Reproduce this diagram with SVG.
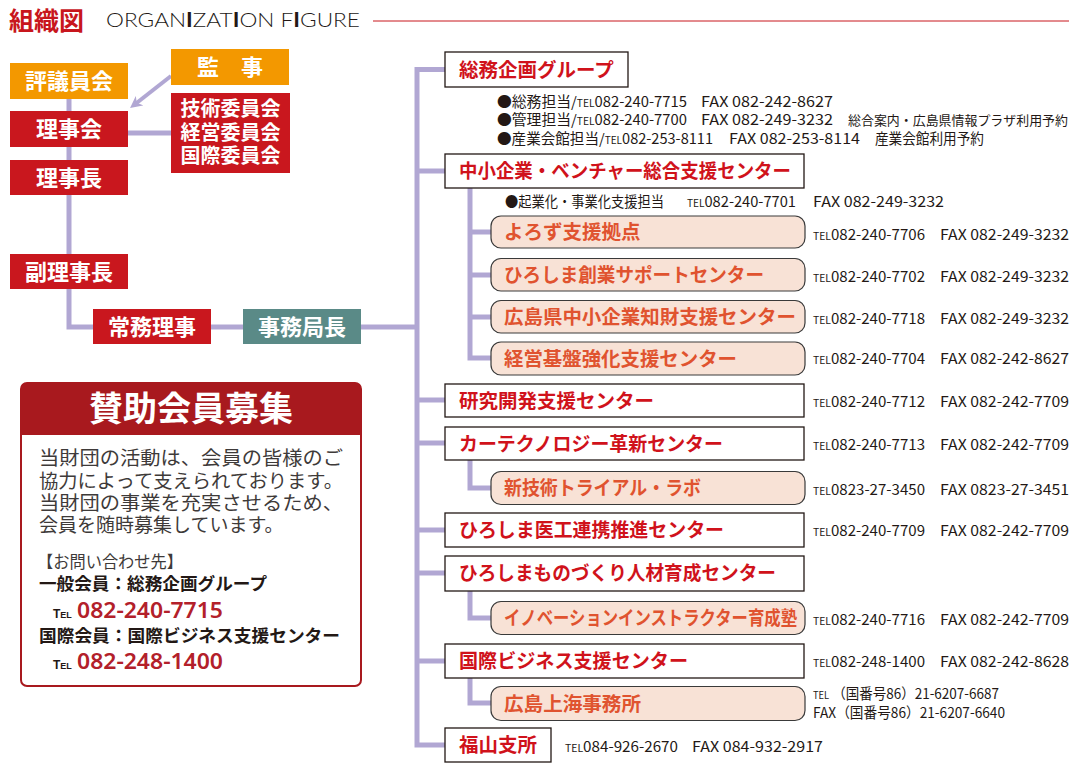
<svg xmlns="http://www.w3.org/2000/svg" width="1077" height="775" viewBox="0 0 1077 775">
<defs>
<style>
text{font-family:"Noto Sans CJK JP","Liberation Sans",sans-serif}
.ln{stroke:#b1a7d3;stroke-width:5;fill:none;stroke-linejoin:miter}
.wb{fill:#fff;stroke:#231815;stroke-width:1.3}
.rb{fill:#f8e2d6;stroke:#3a3a3a;stroke-width:1.2}
.or{fill:#f39800}
.rd{fill:#c9171e}
.tl{fill:#5a8a87}
.lw{fill:#fff;font-weight:bold;font-size:22px;text-anchor:middle}
.tr{fill:#d0121b;font-weight:bold;font-size:19.5px}
.to{fill:#e0532f;font-weight:bold;font-size:19.5px}
.info{fill:#231815;font-size:14.5px}
.tel{font-size:10px}
.body{fill:#3e3a39;font-size:19px}
.bb{fill:#231815;font-size:17.5px;font-weight:bold}
.num{fill:#b3202a;font-size:22px;font-weight:600;font-family:"Noto Sans","Liberation Sans",sans-serif}
.telb{fill:#231815;font-size:12px;font-weight:bold;font-family:"Liberation Sans",sans-serif}
</style>
<marker id="ah" viewBox="0 0 12 12" refX="7" refY="6" markerWidth="12" markerHeight="12" markerUnits="userSpaceOnUse" orient="auto">
<path d="M0,0 L12,6 L0,12 L3.5,6 z" fill="#b1a7d3"/>
</marker>
</defs>
<rect width="1077" height="775" fill="#fff"/>

<g id="title">
<text x="9" y="29.5" font-size="25" font-weight="bold" fill="#c8161d">組織図</text>
<text x="106" y="27" font-size="20.5" fill="#231815" textLength="254" lengthAdjust="spacingAndGlyphs" style="font-family:Lato,'Liberation Sans',sans-serif;font-weight:300">ORGAN<tspan font-weight="bold">I</tspan>ZAT<tspan font-weight="bold">I</tspan>ON F<tspan font-weight="bold">I</tspan>GURE</text>
<line x1="373" y1="21" x2="1069" y2="21" stroke="#c8161d" stroke-width="1"/>
</g>

<g id="connectors">
<path class="ln" d="M69,81 V327 H93"/>
<path class="ln" d="M128,133 H171"/>
<path class="ln" d="M211,327 H243"/>
<path class="ln" d="M361,327 H417"/>
<path class="ln" d="M445,69.5 H417 V745 H445"/>
<path class="ln" d="M417,171 H445 M417,400 H445 M417,443 H445 M417,530 H445 M417,573 H445 M417,661 H445"/>
<path class="ln" d="M470,188 V358 H491 M470,232 H491 M470,275 H491 M470,317 H491"/>
<path class="ln" d="M470,460 V488 H491"/>
<path class="ln" d="M470,591 V618 H491"/>
<path class="ln" d="M470,678 V703 H491"/>
<line x1="171" y1="76" x2="134" y2="105" stroke="#b1a7d3" stroke-width="4" marker-end="url(#ah)"/>
</g>

<g id="n-hyogiinkai"><rect class="or" x="10" y="63" width="118" height="36"/><text class="lw" x="69" y="89">評議員会</text></g>
<g id="n-kanji"><rect class="or" x="171" y="49" width="118" height="36"/><text class="lw" x="230" y="75">監　事</text></g>
<g id="n-rijikai"><rect class="rd" x="10" y="111" width="118" height="36"/><text class="lw" x="69" y="137">理事会</text></g>
<g id="n-iinkai"><rect class="rd" x="171" y="93" width="119" height="80"/>
<text class="lw" x="230.5" y="115.5" style="font-size:20px">技術委員会</text>
<text class="lw" x="230.5" y="139.5" style="font-size:20px">経営委員会</text>
<text class="lw" x="230.5" y="162.5" style="font-size:20px">国際委員会</text></g>
<g id="n-rijicho"><rect class="rd" x="10" y="160" width="118" height="35"/><text class="lw" x="69" y="185.5">理事長</text></g>
<g id="n-fukurijicho"><rect class="rd" x="10" y="254" width="118" height="35"/><text class="lw" x="69" y="279.5">副理事長</text></g>
<g id="n-jomuriji"><rect class="rd" x="93" y="309" width="118" height="35"/><text class="lw" x="152" y="334.5">常務理事</text></g>
<g id="n-jimukyokucho"><rect class="tl" x="243" y="309" width="118" height="35"/><text class="lw" x="302" y="334.5">事務局長</text></g>

<g id="n-somu">
<rect class="wb" x="445" y="52" width="183" height="35"/>
<text class="tr" x="459" y="76.5">総務企画グループ</text>
<text class="info" x="497" y="106.5" textLength="190" lengthAdjust="spacingAndGlyphs">●総務担当/<tspan class="tel">TEL</tspan>082-240-7715</text>
<text class="info" x="701" y="106.5" textLength="132" lengthAdjust="spacingAndGlyphs">FAX 082-242-8627</text>
<text class="info" x="497" y="125" textLength="190" lengthAdjust="spacingAndGlyphs">●管理担当/<tspan class="tel">TEL</tspan>082-240-7700</text>
<text class="info" x="701" y="125" textLength="132" lengthAdjust="spacingAndGlyphs">FAX 082-249-3232</text>
<text class="info" x="848" y="125" font-size="13" style="font-size:13px" textLength="220" lengthAdjust="spacingAndGlyphs">総合案内・広島県情報プラザ利用予約</text>
<text class="info" x="497" y="143.5" textLength="216" lengthAdjust="spacingAndGlyphs">●産業会館担当/<tspan class="tel">TEL</tspan>082-253-8111</text>
<text class="info" x="729" y="143.5" textLength="131" lengthAdjust="spacingAndGlyphs">FAX 082-253-8114</text>
<text class="info" x="875" y="143.5" textLength="109" lengthAdjust="spacingAndGlyphs">産業会館利用予約</text>
</g>

<g id="n-chusho">
<rect class="wb" x="445" y="154" width="359" height="34"/>
<text class="tr" x="459" y="178" textLength="332" lengthAdjust="spacingAndGlyphs">中小企業・ベンチャー総合支援センター</text>
<text class="info" x="505" y="207" textLength="159" lengthAdjust="spacingAndGlyphs">●起業化・事業化支援担当</text>
<text class="info" x="687" y="207" textLength="109" lengthAdjust="spacingAndGlyphs"><tspan class="tel">TEL</tspan>082-240-7701</text>
<text class="info" x="813" y="207" textLength="131" lengthAdjust="spacingAndGlyphs">FAX 082-249-3232</text>
</g>

<g id="n-yorozu">
<rect class="rb" x="491" y="216" width="314" height="32" rx="10"/>
<text class="to" x="504" y="239">よろず支援拠点</text>
<text class="info" x="813" y="239.5" textLength="112" lengthAdjust="spacingAndGlyphs"><tspan class="tel">TEL</tspan>082-240-7706</text>
<text class="info" x="940" y="239.5" textLength="129" lengthAdjust="spacingAndGlyphs">FAX 082-249-3232</text>
</g>
<g id="n-sogyo">
<rect class="rb" x="491" y="258.5" width="314" height="32.5" rx="10"/>
<text class="to" x="504" y="282" textLength="260" lengthAdjust="spacingAndGlyphs">ひろしま創業サポートセンター</text>
<text class="info" x="813" y="281.5" textLength="112" lengthAdjust="spacingAndGlyphs"><tspan class="tel">TEL</tspan>082-240-7702</text>
<text class="info" x="940" y="281.5" textLength="129" lengthAdjust="spacingAndGlyphs">FAX 082-249-3232</text>
</g>
<g id="n-chizai">
<rect class="rb" x="491" y="300.5" width="314" height="32.5" rx="10"/>
<text class="to" x="504" y="324" textLength="292" lengthAdjust="spacingAndGlyphs">広島県中小企業知財支援センター</text>
<text class="info" x="813" y="324" textLength="112" lengthAdjust="spacingAndGlyphs"><tspan class="tel">TEL</tspan>082-240-7718</text>
<text class="info" x="940" y="324" textLength="129" lengthAdjust="spacingAndGlyphs">FAX 082-249-3232</text>
</g>
<g id="n-keiei">
<rect class="rb" x="491" y="342" width="314" height="33" rx="10"/>
<text class="to" x="504" y="365.5" textLength="233" lengthAdjust="spacingAndGlyphs">経営基盤強化支援センター</text>
<text class="info" x="813" y="363.5" textLength="112" lengthAdjust="spacingAndGlyphs"><tspan class="tel">TEL</tspan>082-240-7704</text>
<text class="info" x="940" y="363.5" textLength="129" lengthAdjust="spacingAndGlyphs">FAX 082-242-8627</text>
</g>

<g id="n-kenkyu">
<rect class="wb" x="445" y="384" width="359" height="33"/>
<text class="tr" x="459" y="407.5">研究開発支援センター</text>
<text class="info" x="813" y="406.5" textLength="112" lengthAdjust="spacingAndGlyphs"><tspan class="tel">TEL</tspan>082-240-7712</text>
<text class="info" x="940" y="406.5" textLength="129" lengthAdjust="spacingAndGlyphs">FAX 082-242-7709</text>
</g>
<g id="n-car">
<rect class="wb" x="445" y="427" width="359" height="33"/>
<text class="tr" x="459" y="450.5" textLength="264" lengthAdjust="spacingAndGlyphs">カーテクノロジー革新センター</text>
<text class="info" x="813" y="449.5" textLength="112" lengthAdjust="spacingAndGlyphs"><tspan class="tel">TEL</tspan>082-240-7713</text>
<text class="info" x="940" y="449.5" textLength="129" lengthAdjust="spacingAndGlyphs">FAX 082-242-7709</text>
</g>
<g id="n-trial">
<rect class="rb" x="491" y="471.5" width="314" height="33" rx="10"/>
<text class="to" x="504" y="495" textLength="197" lengthAdjust="spacingAndGlyphs">新技術トライアル・ラボ</text>
<text class="info" x="813" y="494.5" textLength="112" lengthAdjust="spacingAndGlyphs"><tspan class="tel">TEL</tspan>0823-27-3450</text>
<text class="info" x="940" y="494.5" textLength="129" lengthAdjust="spacingAndGlyphs">FAX 0823-27-3451</text>
</g>
<g id="n-iko">
<rect class="wb" x="445" y="513" width="359" height="34"/>
<text class="tr" x="459" y="537" textLength="265" lengthAdjust="spacingAndGlyphs">ひろしま医工連携推進センター</text>
<text class="info" x="813" y="535.5" textLength="112" lengthAdjust="spacingAndGlyphs"><tspan class="tel">TEL</tspan>082-240-7709</text>
<text class="info" x="940" y="535.5" textLength="129" lengthAdjust="spacingAndGlyphs">FAX 082-242-7709</text>
</g>
<g id="n-monozukuri">
<rect class="wb" x="445" y="556" width="359" height="35"/>
<text class="tr" x="459" y="580" textLength="317" lengthAdjust="spacingAndGlyphs">ひろしまものづくり人材育成センター</text>
</g>
<g id="n-innovation">
<rect class="rb" x="491" y="601.5" width="314" height="33" rx="10"/>
<text class="to" x="504" y="625" textLength="293" lengthAdjust="spacingAndGlyphs">イノベーションインストラクター育成塾</text>
<text class="info" x="813" y="624.5" textLength="112" lengthAdjust="spacingAndGlyphs"><tspan class="tel">TEL</tspan>082-240-7716</text>
<text class="info" x="940" y="624.5" textLength="129" lengthAdjust="spacingAndGlyphs">FAX 082-242-7709</text>
</g>
<g id="n-kokusai">
<rect class="wb" x="445" y="644" width="359" height="34"/>
<text class="tr" x="459" y="668" textLength="229" lengthAdjust="spacingAndGlyphs">国際ビジネス支援センター</text>
<text class="info" x="813" y="666.5" textLength="112" lengthAdjust="spacingAndGlyphs"><tspan class="tel">TEL</tspan>082-248-1400</text>
<text class="info" x="940" y="666.5" textLength="129" lengthAdjust="spacingAndGlyphs">FAX 082-242-8628</text>
</g>
<g id="n-shanghai">
<rect class="rb" x="491" y="686.5" width="314" height="34" rx="10"/>
<text class="to" x="504" y="710.5" textLength="137" lengthAdjust="spacingAndGlyphs">広島上海事務所</text>
<text class="info" x="813" y="699" textLength="186" lengthAdjust="spacingAndGlyphs"><tspan class="tel">TEL</tspan> （国番号86）21-6207-6687</text>
<text class="info" x="813" y="717.5" textLength="192" lengthAdjust="spacingAndGlyphs">FAX（国番号86）21-6207-6640</text>
</g>
<g id="n-fukuyama">
<rect class="wb" x="445" y="728" width="106" height="34"/>
<text class="tr" x="459" y="752">福山支所</text>
<text class="info" x="565" y="751.5" textLength="113" lengthAdjust="spacingAndGlyphs"><tspan class="tel">TEL</tspan>084-926-2670</text>
<text class="info" x="692" y="751.5" textLength="131" lengthAdjust="spacingAndGlyphs">FAX 084-932-2917</text>
</g>

<g id="sanjo">
<rect x="21" y="383" width="340" height="303" rx="6" fill="#fff" stroke="#a8191e" stroke-width="2"/>
<path d="M21,435 V389 Q21,383 27,383 H355 Q361,383 361,389 V435 Z" fill="#a8191e"/>
<text x="191" y="421" text-anchor="middle" font-size="34" font-weight="bold" fill="#fff">賛助会員募集</text>
<text class="body" x="39" y="465" textLength="304" lengthAdjust="spacingAndGlyphs">当財団の活動は、会員の皆様のご</text>
<text class="body" x="39" y="487.5" textLength="304" lengthAdjust="spacingAndGlyphs">協力によって支えられております。</text>
<text class="body" x="39" y="510" textLength="304" lengthAdjust="spacingAndGlyphs">当財団の事業を充実させるため、</text>
<text class="body" x="39" y="532">会員を随時募集しています。</text>
<text x="37" y="568" font-size="16.5" fill="#3e3a39" textLength="146" lengthAdjust="spacingAndGlyphs">【お問い合わせ先】</text>
<text class="bb" x="39" y="589.5" textLength="228" lengthAdjust="spacingAndGlyphs">一般会員：総務企画グループ</text>
<text class="telb" x="53" y="618">T<tspan font-size="9">EL</tspan></text>
<text class="num" x="77" y="618" textLength="146" lengthAdjust="spacingAndGlyphs">082-240-7715</text>
<text class="bb" x="39" y="641.5" textLength="301" lengthAdjust="spacingAndGlyphs">国際会員：国際ビジネス支援センター</text>
<text class="telb" x="53" y="668.5">T<tspan font-size="9">EL</tspan></text>
<text class="num" x="77" y="668.5" textLength="146" lengthAdjust="spacingAndGlyphs">082-248-1400</text>
</g>
</svg>
